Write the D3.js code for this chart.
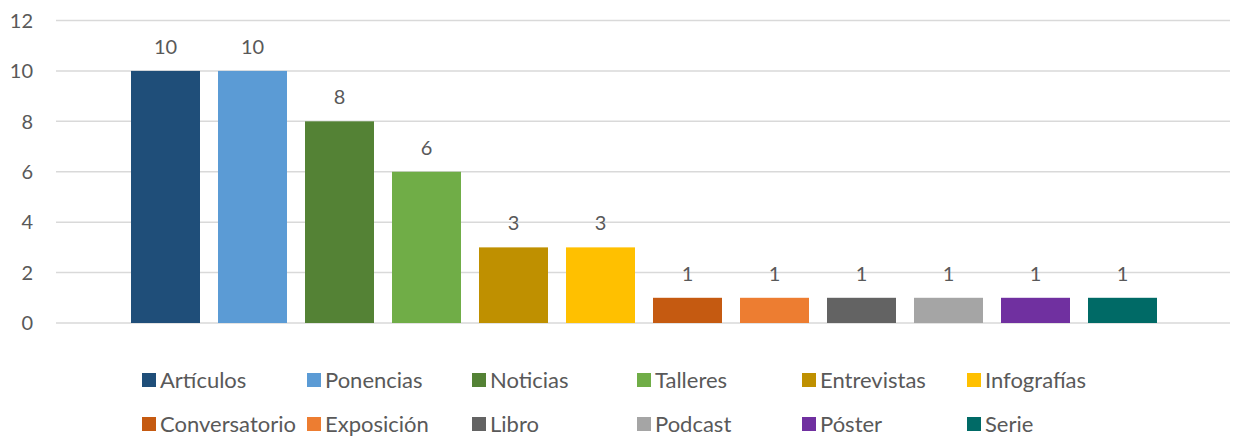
<!DOCTYPE html>
<html>
<head>
<meta charset="utf-8">
<script src="https://cdn.jsdelivr.net/npm/d3@7"></script>
<style>
	body { margin: 0; background: #fff; }
	text { font-family: Lato, "Noto Sans", sans-serif; fill: #595959; }
</style>
</head>
<body>
<svg id="chart" width="1233" height="437"></svg>
<script>
// series (one bar each)
var series = ["Artículos", "Ponencias", "Noticias", "Talleres", "Entrevistas", "Infografías",
	"Conversatorio", "Exposición", "Libro", "Podcast", "Póster", "Serie"];
var values = [10, 10, 8, 6, 3, 3, 1, 1, 1, 1, 1, 1];
var colours = ["#1f4e79", "#5b9bd5", "#548235", "#70ad47", "#bf9000", "#ffc000",
	"#c55a11", "#ed7d31", "#636363", "#a5a5a5", "#7030a0", "#006a66"];
var yTicks = [0, 2, 4, 6, 8, 10, 12];

var svg = d3.select("#chart");

var plot = { left: 56, right: 1230, top: 20.5, bottom: 323 };

var y = d3.scaleLinear()
	.domain([0, 12])
	.range([plot.bottom, plot.top]);

// all bars sit in a single category group, centred in the plot
var x = d3.scaleBand()
	.domain(series)
	.range([122, 1166])
	.paddingInner(0.207)
	.paddingOuter(0.1035);

// gridlines
svg.append("g")
	.selectAll("line")
	.data(yTicks)
	.enter()
	.append("line")
	.attr("x1", plot.left)
	.attr("x2", plot.right)
	.attr("y1", d => y(d))
	.attr("y2", d => y(d))
	.style("stroke", "#d9d9d9")
	.style("stroke-width", 1.5);

// y tick labels
svg.append("g")
	.selectAll("text")
	.data(yTicks)
	.enter()
	.append("text")
	.attr("x", 33)
	.attr("y", d => y(d))
	.attr("dy", "0.36em")
	.attr("text-anchor", "end")
	.style("font-size", "20px")
	.text(d => d);

// bars
svg.append("g")
	.selectAll("rect")
	.data(series)
	.enter()
	.append("rect")
	.attr("x", d => x(d))
	.attr("width", x.bandwidth())
	.attr("y", (d, i) => y(values[i]))
	.attr("height", (d, i) => y(0) - y(values[i]))
	.style("fill", (d, i) => colours[i]);

// data labels
svg.append("g")
	.selectAll("text")
	.data(series)
	.enter()
	.append("text")
	.attr("x", d => x(d) + x.bandwidth() / 2)
	.attr("y", (d, i) => y(values[i]) - 17)
	.attr("text-anchor", "middle")
	.style("font-size", "20px")
	.text((d, i) => values[i]);

// legend, two rows of six
var legend = svg.append("g")
	.selectAll("g")
	.data(series)
	.enter()
	.append("g")
	.attr("transform", function(d, i) {
		return "translate(" + (142 + (i % 6) * 165) + "," + (380 + Math.floor(i / 6) * 44) + ")";
	});

legend.append("rect")
	.attr("x", 0)
	.attr("y", -7)
	.attr("width", 14)
	.attr("height", 14)
	.style("fill", (d, i) => colours[i]);

legend.append("text")
	.attr("x", 18)
	.attr("y", 0)
	.attr("dy", "0.36em")
	.style("font-size", "22px")
	.text(d => d);
</script>
</body>
</html>
